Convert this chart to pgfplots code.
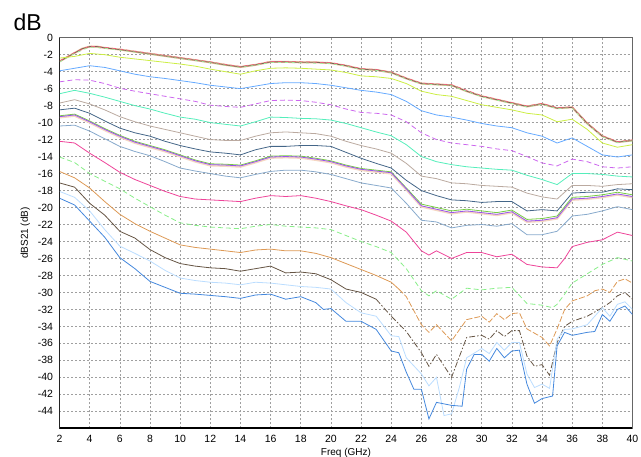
\documentclass[border=0pt]{standalone}
\usepackage{fontspec}
\setmainfont{Liberation Sans}
\usepackage{pgfplots}
\pgfplotsset{compat=1.18}

\definecolor{cPeach}{HTML}{EEBB99}
\definecolor{cRed}{HTML}{EE5577}
\definecolor{cLgreen}{HTML}{99EE99}
\definecolor{cDkbrown}{HTML}{776655}
\definecolor{cYellow}{HTML}{CCEE44}
\definecolor{cLblue}{HTML}{66AAFF}
\definecolor{cPurpleD}{HTML}{CC66EE}
\definecolor{cAqua}{HTML}{55EEBB}
\definecolor{cTan}{HTML}{BBAAA0}
\definecolor{cDkblue}{HTML}{446688}
\definecolor{cPurple}{HTML}{9955EE}
\definecolor{cGreen}{HTML}{77CC44}
\definecolor{cGrayblue}{HTML}{88AACC}
\definecolor{cPink}{HTML}{EE4499}
\definecolor{cGreenD}{HTML}{88EE88}
\definecolor{cOrange}{HTML}{DD9955}
\definecolor{cBrown}{HTML}{665544}
\definecolor{cPale}{HTML}{BBDDFF}
\definecolor{cBlue}{HTML}{4488DD}

\begin{document}
\begin{tikzpicture}
% canvas 641 x 457, axis box lower-left corner at the origin
\useasboundingbox (-59.5pt,-28.7pt) rectangle (581.5pt,428.3pt);
\node[anchor=base west, font=\fontsize{23}{26}\selectfont] at (-49.5pt,397.3pt) {dB};
\begin{axis}[
    at={(0pt,0pt)}, anchor=south west,
    scale only axis, width=573pt, height=390.6pt,
    xmin=2, xmax=40, ymin=-46, ymax=0,
    xtick={2,4,...,40}, ytick={0,-2,...,-44},
    minor x tick num=5,
    tick align=outside,
    major tick length=0pt, minor tick length=2.5pt,
    xtick style={draw=none}, ytick style={draw=none},
    minor tick style={black, line width=0.6pt},
    grid=major,
    major grid style={gray!75, dash pattern=on 2pt off 2pt, line width=0.6pt},
    axis line style={gray!80!black, line width=0.7pt},
    tick label style={font=\fontsize{10.5}{12}\selectfont},
    /pgf/number format/assume math mode=true,
    xticklabel style={yshift=-3pt},
    yticklabel style={xshift=-3pt},
    xlabel={Freq (GHz)}, ylabel={dBS21 (dB)},
    label style={font=\fontsize{10}{12}\selectfont},
    xlabel style={yshift=1pt},
    ylabel style={yshift=1pt},
    every axis plot/.append style={line width=0.8pt},
    clip=true,
]
% top cluster
\addplot[cPeach, line width=2pt] coordinates {(2,-2.8)(2.5,-2.3)(3,-1.8)(3.5,-1.3)(4,-1.05)(4.5,-1.05)(5,-1.2)(6,-1.4)(7,-1.65)(8,-1.9)(9,-2.15)(10,-2.4)(11,-2.65)(12,-2.9)(13,-3.2)(14,-3.45)(15,-3.2)(16,-2.85)(17,-2.85)(18,-2.9)(19,-2.9)(20,-3.0)(21,-3.3)(22,-3.7)(23,-3.8)(24,-4.1)(25,-4.8)(26,-5.4)(27,-5.5)(28,-5.6)(29,-6.3)(30,-6.9)(31,-7.3)(32,-7.7)(33,-8.1)(34,-7.8)(35,-8.3)(36,-8.2)(37,-10.1)(38,-11.6)(39,-12.3)(40,-12.1)};
\addplot[cDkbrown] coordinates {(2,-2.8)(2.5,-2.3)(3,-1.8)(3.5,-1.3)(4,-1.05)(4.5,-1.05)(5,-1.2)(6,-1.4)(7,-1.65)(8,-1.9)(9,-2.15)(10,-2.4)(11,-2.65)(12,-2.9)(13,-3.2)(14,-3.45)(15,-3.2)(16,-2.85)(17,-2.85)(18,-2.9)(19,-2.9)(20,-3.0)(21,-3.3)(22,-3.7)(23,-3.8)(24,-4.1)(25,-4.8)(26,-5.4)(27,-5.5)(28,-5.6)(29,-6.3)(30,-6.9)(31,-7.3)(32,-7.7)(33,-8.1)(34,-7.8)(35,-8.3)(36,-8.2)(37,-10.1)(38,-11.6)(39,-12.3)(40,-12.1)};
\addplot[cRed, dash pattern=on 4pt off 3pt] coordinates {(2,-2.75)(3,-1.75)(4,-1.0)(5,-1.15)(6,-1.35)(8,-1.85)(10,-2.35)(12,-2.85)(13,-3.15)(14,-3.4)(15,-3.15)(16,-2.8)(18,-2.85)(20,-2.95)(21,-3.25)(22,-3.65)(23,-3.75)(24,-4.05)(25,-4.75)(26,-5.35)(28,-5.55)(30,-6.85)(32,-7.65)(33,-8.05)(34,-7.75)(35,-8.25)(36,-8.15)(37,-10.05)(38,-11.55)(39,-12.25)(40,-12.05)};
\addplot[cLgreen, dash pattern=on 3pt off 4pt] coordinates {(2,-2.85)(3,-1.85)(4,-1.1)(5,-1.25)(6,-1.45)(8,-1.95)(10,-2.45)(12,-2.95)(13,-3.25)(14,-3.5)(15,-3.25)(16,-2.9)(18,-2.95)(20,-3.05)(21,-3.35)(22,-3.75)(23,-3.85)(24,-4.15)(25,-4.85)(26,-5.45)(28,-5.65)(30,-6.95)(32,-7.75)(33,-8.15)(34,-7.85)(35,-8.35)(36,-8.25)(37,-10.15)(38,-11.65)(39,-12.35)(40,-12.15)};
% yellow-green
\addplot[cYellow] coordinates {(2,-2.4)(3,-2.2)(4,-1.85)(5,-2.0)(6,-2.3)(7,-2.5)(8,-2.7)(9,-2.9)(10,-3.1)(11,-3.35)(12,-3.7)(13,-4.0)(14,-4.3)(15,-3.9)(16,-3.6)(17,-3.55)(18,-3.6)(19,-3.7)(20,-3.8)(21,-4.1)(22,-4.5)(23,-4.6)(24,-4.8)(25,-5.4)(26,-6.3)(27,-6.7)(28,-6.9)(29,-7.4)(30,-7.9)(31,-8.2)(32,-8.5)(33,-8.9)(34,-9.1)(35,-9.9)(36,-9.6)(37,-10.8)(38,-12.4)(39,-12.9)(40,-12.6)};
% light blue
\addplot[cLblue] coordinates {(2,-3.9)(3,-3.6)(4,-3.3)(5,-3.5)(6,-3.9)(7,-4.3)(8,-4.6)(9,-4.8)(10,-5.05)(11,-5.3)(12,-5.6)(13,-5.8)(14,-6.0)(15,-5.7)(16,-5.4)(17,-5.3)(18,-5.3)(19,-5.4)(20,-5.6)(21,-5.9)(22,-6.2)(23,-6.4)(24,-6.7)(25,-7.5)(26,-8.6)(27,-9.1)(28,-9.35)(29,-9.7)(30,-10.1)(31,-10.4)(32,-10.6)(33,-11.2)(34,-11.6)(35,-12.4)(36,-11.8)(37,-12.8)(38,-13.8)(39,-14.05)(40,-13.8)};
% purple dashed
\addplot[cPurpleD, dash pattern=on 5pt off 3pt] coordinates {(2,-5.2)(3,-4.95)(4,-5.0)(5,-5.4)(6,-5.95)(7,-6.3)(8,-6.6)(9,-6.9)(10,-7.2)(11,-7.5)(12,-7.95)(13,-8.1)(14,-8.2)(15,-7.8)(16,-7.4)(17,-7.35)(18,-7.4)(19,-7.6)(20,-7.9)(21,-8.4)(22,-8.8)(23,-8.9)(24,-9.1)(25,-9.9)(26,-11.2)(27,-12.0)(28,-12.4)(29,-12.6)(30,-12.8)(31,-13.1)(32,-13.3)(33,-14.0)(34,-14.75)(35,-15.1)(36,-14.3)(37,-14.6)(38,-15.2)(39,-15.35)(40,-15.2)};
% aquamarine
\addplot[cAqua] coordinates {(2,-6.6)(3,-6.2)(4,-6.55)(5,-7.0)(6,-7.5)(7,-8.0)(8,-8.4)(9,-8.9)(10,-9.35)(11,-9.6)(12,-10.0)(13,-10.2)(14,-10.4)(15,-9.9)(16,-9.35)(17,-9.4)(18,-9.5)(19,-9.55)(20,-9.7)(21,-10.1)(22,-10.6)(23,-11.1)(24,-11.55)(25,-12.6)(26,-14.0)(27,-14.6)(28,-14.95)(29,-15.2)(30,-15.35)(31,-15.5)(32,-15.6)(33,-16.2)(34,-16.7)(35,-17.3)(36,-16.0)(37,-16.0)(38,-16.1)(39,-16.3)(40,-16.4)};
% tan
\addplot[cTan] coordinates {(2,-7.7)(3,-7.3)(4,-7.8)(5,-8.5)(6,-9.3)(7,-9.9)(8,-10.4)(9,-10.8)(10,-11.2)(11,-11.6)(12,-12.0)(13,-12.1)(14,-12.1)(15,-11.6)(16,-11.2)(17,-11.1)(18,-11.2)(19,-11.3)(20,-11.6)(21,-12.2)(22,-12.7)(23,-13.1)(24,-13.6)(25,-14.8)(26,-16.3)(27,-16.6)(28,-17.1)(29,-17.2)(30,-17.4)(31,-17.5)(32,-17.6)(33,-18.3)(34,-18.75)(35,-19.0)(36,-17.4)(37,-17.4)(38,-17.5)(39,-17.3)(40,-17.2)};
% dark blue-gray
\addplot[cDkblue] coordinates {(2,-8.5)(3,-8.3)(4,-8.9)(5,-9.8)(6,-10.65)(7,-11.2)(8,-11.6)(9,-12.2)(10,-12.7)(11,-13.1)(12,-13.45)(13,-13.6)(14,-13.8)(15,-13.2)(16,-12.8)(17,-12.8)(18,-12.7)(19,-12.7)(20,-12.8)(21,-13.5)(22,-14.2)(23,-14.8)(24,-15.35)(25,-16.8)(26,-18.0)(27,-18.6)(28,-19.1)(29,-19.2)(30,-19.4)(31,-19.3)(32,-19.3)(33,-20.4)(34,-20.25)(35,-20.4)(36,-18.3)(37,-18.2)(38,-18.2)(39,-17.8)(40,-17.9)};
% purple cluster
\addplot[cPeach!60, line width=2pt] coordinates {(2,-9.4)(3,-9.2)(4,-10.0)(5,-10.9)(6,-11.7)(7,-12.4)(8,-12.9)(9,-13.4)(10,-14.0)(11,-14.6)(12,-15.05)(13,-15.1)(14,-15.2)(15,-14.7)(16,-14.15)(17,-14.1)(18,-14.15)(19,-14.4)(20,-14.7)(21,-15.2)(22,-15.6)(23,-15.8)(24,-16.0)(25,-17.9)(26,-19.9)(27,-20.3)(28,-20.7)(29,-20.5)(30,-20.7)(31,-20.9)(32,-20.6)(33,-21.7)(34,-21.6)(35,-21.3)(36,-19.1)(37,-19.0)(38,-18.8)(39,-18.5)(40,-18.8)};
\addplot[cGreen] coordinates {(2,-9.2)(3,-9.0)(4,-9.8)(5,-10.7)(6,-11.5)(7,-12.2)(8,-12.7)(9,-13.2)(10,-13.8)(11,-14.4)(12,-14.85)(13,-14.9)(14,-15.0)(15,-14.5)(16,-13.95)(17,-13.9)(18,-13.95)(19,-14.2)(20,-14.5)(21,-15.0)(22,-15.4)(23,-15.6)(24,-15.8)(25,-17.7)(26,-19.6)(27,-20.0)(28,-20.4)(29,-20.2)(30,-20.4)(31,-20.6)(32,-20.3)(33,-21.4)(34,-21.3)(35,-21.0)(36,-18.8)(37,-18.7)(38,-18.5)(39,-18.2)(40,-18.5)};
\addplot[cPurple] coordinates {(2,-9.3)(3,-9.1)(4,-9.9)(5,-10.8)(6,-11.6)(7,-12.3)(8,-12.8)(9,-13.3)(10,-13.9)(11,-14.5)(12,-14.95)(13,-15.0)(14,-15.1)(15,-14.6)(16,-14.05)(17,-14.0)(18,-14.05)(19,-14.3)(20,-14.6)(21,-15.1)(22,-15.5)(23,-15.7)(24,-15.9)(25,-17.8)(26,-19.8)(27,-20.2)(28,-20.6)(29,-20.4)(30,-20.6)(31,-20.8)(32,-20.5)(33,-21.6)(34,-21.5)(35,-21.2)(36,-19.0)(37,-18.9)(38,-18.7)(39,-18.4)(40,-18.7)};
% gray-blue
\addplot[cGrayblue] coordinates {(2,-10.4)(3,-10.3)(4,-11.0)(5,-11.9)(6,-12.8)(7,-13.4)(8,-13.9)(9,-14.6)(10,-15.35)(11,-15.7)(12,-16.0)(13,-16.3)(14,-16.5)(15,-16.1)(16,-15.75)(17,-15.6)(18,-15.6)(19,-15.8)(20,-16.1)(21,-16.6)(22,-17.1)(23,-17.4)(24,-17.7)(25,-19.5)(26,-21.5)(27,-21.7)(28,-22.4)(29,-22.1)(30,-22.0)(31,-22.2)(32,-21.9)(33,-23.2)(34,-23.2)(35,-22.8)(36,-21.0)(37,-20.8)(38,-20.4)(39,-19.9)(40,-20.25)};
% pink
\addplot[cPink] coordinates {(2,-12.2)(3,-12.4)(4,-13.6)(5,-14.7)(6,-15.85)(7,-16.7)(8,-17.4)(9,-18.1)(10,-18.7)(11,-19.0)(12,-19.1)(13,-19.2)(14,-19.3)(15,-18.9)(16,-18.6)(17,-18.7)(18,-18.6)(19,-18.9)(20,-19.3)(21,-19.8)(22,-20.25)(23,-20.9)(24,-21.6)(25,-22.9)(26,-25.1)(26.5,-25.6)(27,-25.1)(28,-26.0)(29,-25.3)(30,-25.3)(31,-25.8)(32,-25.5)(33,-26.7)(34,-27.0)(35,-27.1)(35.5,-26.0)(36,-24.6)(37,-24.1)(38,-23.8)(39,-22.9)(40,-23.3)};
% light green dashed
\addplot[cGreenD, dash pattern=on 5pt off 3pt] coordinates {(2,-14.05)(3,-14.7)(4,-16.0)(5,-16.9)(6,-17.8)(7,-18.9)(8,-19.9)(9,-20.9)(10,-21.8)(11,-22.1)(12,-22.3)(13,-22.4)(14,-22.5)(15,-22.2)(16,-22.0)(17,-22.2)(18,-22.3)(19,-22.4)(20,-22.6)(21,-23.3)(22,-24.0)(23,-24.6)(24,-25.3)(25,-27.2)(26,-29.8)(26.5,-30.4)(27,-29.8)(28,-30.8)(29,-29.5)(30,-29.7)(31,-29.5)(32,-29.4)(33,-31.3)(34,-31.5)(34.7,-31.8)(35,-31.4)(35.5,-30.2)(36,-28.9)(37,-27.8)(38,-26.7)(39,-25.9)(40,-26.3)};
% orange (solid, then broken)
\addplot[cOrange] coordinates {(2,-15.75)(3,-16.5)(4,-17.7)(5,-19.3)(6,-20.8)(7,-21.9)(8,-22.8)(9,-23.6)(10,-24.4)(11,-24.7)(12,-24.9)(13,-25.1)(14,-25.3)(15,-25.0)(16,-24.9)(17,-25.1)(18,-25.1)(19,-25.4)(20,-25.9)(21,-26.6)(22,-27.3)(23,-28.0)(24,-28.8)(24.5,-29.6)};
\addplot[cOrange, dash pattern=on 6pt off 2pt] coordinates {(24.5,-29.6)(25,-30.5)(26,-33.8)(26.5,-34.7)(27,-33.8)(28,-35.7)(29,-33.2)(30,-32.8)(30.5,-33.5)(31,-32.5)(31.5,-33.2)(32,-32.5)(32.5,-32.4)(33,-34.3)(34,-35.3)(34.5,-36.3)(35,-34.3)(35.5,-32.0)(36,-31.0)(37,-30.4)(37.5,-29.8)(38,-29.6)(38.5,-30.0)(39,-28.7)(39.5,-28.4)(40,-28.9)};
% dark brown (solid, then dash-dot)
\addplot[cBrown] coordinates {(2,-17.1)(3,-17.6)(4,-19.5)(5,-20.9)(6,-22.8)(7,-23.6)(8,-24.95)(9,-25.9)(10,-26.6)(11,-26.9)(12,-27.1)(13,-27.2)(14,-27.5)(15,-27.2)(16,-26.9)(17,-27.7)(18,-27.6)(19,-27.8)(20,-28.5)(21,-29.6)(22,-30.0)(23,-30.8)};
\addplot[cBrown, dash pattern=on 6pt off 2pt on 1.5pt off 2pt] coordinates {(23,-30.8)(24,-32.8)(25,-34.6)(26,-37.1)(26.5,-38.7)(27,-37.3)(28,-40.0)(29,-35.3)(30,-35.05)(30.5,-35.5)(31,-34.5)(31.5,-35.2)(32,-34.5)(32.5,-34.5)(33,-37.5)(33.5,-38.7)(34,-38.5)(34.5,-39.75)(35,-35.9)(35.5,-34.0)(36,-33.4)(37,-32.8)(38,-31.8)(38.5,-31.2)(39,-30.4)(39.5,-30.0)(40,-30.8)};
% pale blue
\addplot[cPale] coordinates {(2,-18.1)(3,-18.8)(4,-20.4)(5,-22.6)(6,-24.55)(7,-25.4)(8,-26.3)(9,-27.4)(10,-28.3)(11,-28.6)(12,-28.8)(13,-28.9)(14,-29.1)(15,-28.8)(16,-28.9)(17,-29.1)(18,-29.3)(19,-29.4)(20,-29.6)(21,-31.2)(22,-32.4)(23,-32.8)(24,-35.1)(24.5,-35.2)(25,-37.7)(26,-39.6)(26.5,-41.0)(27,-40.0)(27.5,-44.5)(28,-44.3)(28.5,-41.3)(29,-37.7)(30,-36.6)(30.5,-37.2)(31,-35.9)(31.5,-36.8)(32,-35.9)(32.5,-35.9)(33,-39.6)(33.5,-41.2)(34,-40.8)(34.5,-41.3)(35,-35.5)(35.5,-34.35)(36,-34.3)(37,-33.8)(38,-31.8)(38.5,-32.8)(39,-31.4)(39.5,-31.1)(40,-32.0)};
% blue
\addplot[cBlue] coordinates {(2,-18.9)(3,-19.7)(4,-21.6)(5,-23.5)(6,-25.9)(7,-27.2)(8,-28.7)(9,-29.4)(10,-30.1)(11,-30.2)(12,-30.35)(13,-30.5)(14,-30.7)(15,-30.3)(16,-30.2)(17,-30.8)(18,-30.5)(19,-31.2)(19.5,-32.0)(20,-31.9)(21,-33.4)(22,-33.4)(23,-34.35)(24,-36.9)(24.5,-37.1)(25,-39.4)(25.5,-41.4)(26,-41.4)(26.5,-44.9)(27,-42.95)(28,-43.3)(28.7,-43.4)(29,-39.05)(29.5,-37.3)(30,-37.3)(30.5,-38.1)(31,-36.6)(31.5,-37.7)(32,-36.9)(32.5,-36.8)(33,-40.8)(33.5,-43.05)(34,-42.5)(34.7,-42.2)(35,-36.3)(35.5,-34.7)(36,-35.05)(37,-34.7)(37.5,-34.6)(38,-32.6)(38.5,-33.4)(39,-32.0)(39.5,-31.6)(40,-32.6)};
% heavy left and bottom axis lines
\draw[black, line width=1.6pt] (rel axis cs:0,1) -- (rel axis cs:0,0) -- (rel axis cs:1,0);
\end{axis}
\end{tikzpicture}
\end{document}
